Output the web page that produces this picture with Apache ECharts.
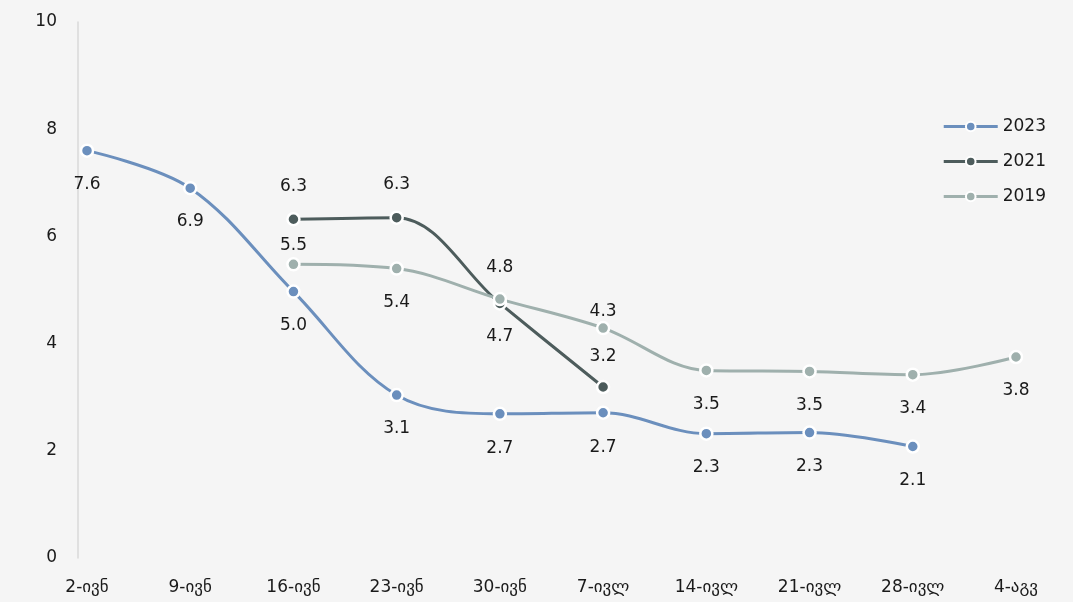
<!DOCTYPE html>
<html>
<head>
<meta charset="utf-8">
<script src="https://cdn.jsdelivr.net/npm/echarts@6/dist/echarts.min.js"></script>
<style>
html,body{margin:0;padding:0;background:#f5f5f5;}
#c{width:1073px;height:602px;}
</style>
</head>
<body>
<div id="c"></div>
<script>
var categories = ['2-ივნ','9-ივნ','16-ივნ','23-ივნ','30-ივნ','7-ივლ','14-ივლ','21-ივლ','28-ივლ','4-აგვ'];
var s2023 = [7.6, 6.9, 4.97, 3.04, 2.69, 2.71, 2.32, 2.34, 2.08, null];
var s2021 = [null, null, 6.32, 6.35, 4.75, 3.19, null, null, null, null];
var s2019 = [null, null, 5.48, 5.40, 4.83, 4.29, 3.50, 3.48, 3.42, 3.75];
var labels2023 = [7.6, 6.9, 5.0, 3.1, 2.7, 2.7, 2.3, 2.3, 2.1, null];
var labels2021 = [null, null, 6.3, 6.3, 4.7, 3.2, null, null, null, null];
var labels2019 = [null, null, 5.5, 5.4, 4.8, 4.3, 3.5, 3.5, 3.4, 3.8];
var yTicks = [0, 2, 4, 6, 8, 10];

var pos2023 = ['bottom','bottom','bottom','bottom','bottom','bottom','bottom','bottom','bottom','bottom'];
var pos2021 = ['top','top','top','top','bottom','top','top','top','top','top'];
var pos2019 = ['top','top','top','bottom','top','top','bottom','bottom','bottom','bottom'];
var dist2023 = [18,18,18,18,19,19,18,18,18,18];
var dist2021 = [17,17,17,17,17,15,17,17,17,17];
var dist2019 = [17,17,3,18,16,1,18,18,18,18];

var FONT = '"DejaVu Sans", "Noto Sans", sans-serif';

function mk(name, vals, labs, pos, dist, color) {
  return {
    name: name,
    type: 'line',
    smooth: 0.35,
    connectNulls: false,
    symbol: 'circle',
    symbolSize: 12,
    showAllSymbol: true,
    lineStyle: {width: 3, color: color},
    itemStyle: {color: color, borderColor: '#ffffff', borderWidth: 2.5},
    data: vals.map(function (v, i) {
      if (v === null) return null;
      return {
        value: v,
        label: {
          show: true,
          position: pos[i],
          distance: dist[i],
          formatter: labs[i].toFixed(1),
          color: '#1a1a1a',
          fontSize: 17,
          fontFamily: FONT
        }
      };
    })
  };
}

var chart = echarts.init(document.getElementById('c'), null, {renderer: 'canvas'});
chart.setOption({
  backgroundColor: '#f5f5f5',
  animation: false,
  grid: {left: 87, right: 57, top: 22, bottom: 44, containLabel: false},
  legend: {
    orient: 'vertical',
    right: 22,
    top: 113,
    itemWidth: 54,
    itemHeight: 12,
    itemGap: 18,
    lineStyle: {width: 3},
    textStyle: {fontSize: 17, color: '#1a1a1a', fontFamily: FONT},
    data: ['2023', '2021', '2019']
  },
  xAxis: {
    type: 'category',
    data: categories,
    boundaryGap: false,
    axisLine: {show: false},
    axisTick: {show: false},
    axisLabel: {fontSize: 17, color: '#1a1a1a', fontFamily: FONT, margin: 21, interval: 0}
  },
  yAxis: {
    type: 'value',
    min: yTicks[0],
    max: yTicks[yTicks.length - 1],
    interval: 2,
    offset: 9,
    axisLine: {show: true, lineStyle: {color: '#d9d9d9', width: 1.5}},
    axisTick: {show: false},
    splitLine: {show: false},
    axisLabel: {fontSize: 17, color: '#1a1a1a', fontFamily: FONT, margin: 21}
  },
  series: [
    mk('2023', s2023, labels2023, pos2023, dist2023, '#6b8fbd'),
    mk('2021', s2021, labels2021, pos2021, dist2021, '#4d5c5c'),
    mk('2019', s2019, labels2019, pos2019, dist2019, '#9fb0ad')
  ]
});
</script>
</body>
</html>
